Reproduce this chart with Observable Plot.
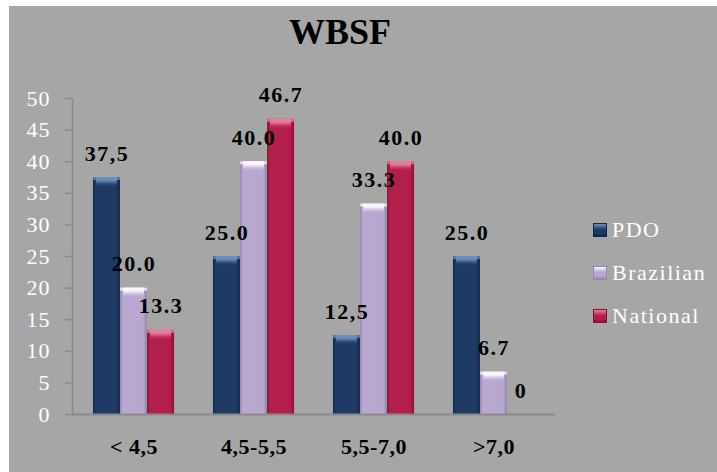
<!DOCTYPE html>
<html>
<head>
<meta charset="utf-8">
<script src="https://cdn.jsdelivr.net/npm/d3@7"></script>
<script src="https://cdn.jsdelivr.net/npm/@observablehq/plot@0.6"></script>
<style>
  body { margin: 0; background: #ffffff; }
  #chart {
    position: absolute; left: 9px; top: 6px; width: 708px; height: 466px;
    background: #a6a6a6; overflow: hidden;
    font-family: "Liberation Serif", "Times New Roman", serif;
  }
  #title {
    position: absolute; left: 0; top: 8px; width: 662px; text-align: center;
    font-weight: bold; font-size: 36px; line-height: 36px; color: #000;
  }
  #plot { position: absolute; left: 0; top: 0; }
  #legend { position: absolute; left: 584px; top: 202px; }
  .item { display: flex; align-items: center; height: 43px; color: #fff; font-size: 22px; letter-spacing: 1.5px; }
  .sw { width: 14px; height: 14px; margin-right: 5px; box-sizing: border-box; }
  #plot svg g[aria-label="text"] text { letter-spacing: 1.5px; }
  #plot svg g[aria-label="y-axis tick label"] text { letter-spacing: 1px; }
  #plot svg g[aria-label="x-axis tick label"] text { letter-spacing: 0.5px; }
</style>
</head>
<body>
<div id="chart">
  <div id="title">WBSF</div>
  <div id="plot"></div>
  <div id="legend"></div>
</div>
<script>
// WBSF distribution by class, percentage per sample group
const categories = ["< 4,5", "4,5-5,5", "5,5-7,0", ">7,0"];
const series = ["PDO", "Brazilian", "National"];

const pdo = [37.5, 25.0, 12.5, 25.0];
const brazilian = [20.0, 40.0, 33.3, 6.7];
const national = [13.3, 46.7, 40.0, 0];

const pdoLabels = ["37,5", "25.0", "12,5", "25.0"];
const brazilianLabels = ["20.0", "40.0", "33.3", "6.7"];
const nationalLabels = ["13.3", "46.7", "40.0", "0"];

const yTicks = [0, 5, 10, 15, 20, 25, 30, 35, 40, 45, 50];

// body colour, darker edge, light top highlight
const palette = {
  PDO:       {base: "#1f3a64", edge: "#12264a", light: "#6d8fbd"},
  Brazilian: {base: "#b8a8cf", edge: "#9585ae", light: "#fbf6ff"},
  National:  {base: "#b31f4b", edge: "#861234", light: "#ec7d9b"}
};

const valuesBySeries = {PDO: pdo, Brazilian: brazilian, National: national};
const labelsBySeries = {PDO: pdoLabels, Brazilian: brazilianLabels, National: nationalLabels};

const rows = series.map(s => categories.map((c, i) => ({
  category: c, series: s, value: valuesBySeries[s][i], label: labelsBySeries[s][i]
})));

const width = 708, height = 466;
const marginLeft = 63, marginRight = 162, marginTop = 92, marginBottom = 58;
const padInner = 0.776, padOuter = 0.388;
const step = (width - marginLeft - marginRight) / (categories.length - padInner + 2 * padOuter);
const bw = step * (1 - padInner);

const ids = {PDO: "pdo", Brazilian: "bra", National: "nat"};

// gradient definitions for the bevelled bars
const gradients = () => {
  const defs = d3.create("svg:defs");
  for (const s of series) {
    const p = palette[s];
    const body = defs.append("linearGradient").attr("id", "body-" + ids[s])
      .attr("x1", 0).attr("x2", 1).attr("y1", 0).attr("y2", 0);
    [[0, p.edge], [0.1, p.base], [0.55, p.base], [0.85, p.base], [1, p.edge]]
      .forEach(([o, c]) => body.append("stop").attr("offset", o).attr("stop-color", c));
    const cap = defs.append("linearGradient").attr("id", "cap-" + ids[s])
      .attr("x1", 0).attr("x2", 0).attr("y1", 0).attr("y2", 1);
    [[0, p.light, 1], [0.4, p.light, 0.85], [1, p.base, 0]]
      .forEach(([o, c, a]) => cap.append("stop").attr("offset", o).attr("stop-color", c).attr("stop-opacity", a));
  }
  return defs.node();
};

// bars with their bevelled tops, one offset column per series
const barMarks = series.flatMap((s, j) => {
  const dx = (j - 1) * bw;
  const data = rows[j];
  const tops = data.filter(d => d.value > 0);
  return [
    Plot.barY(data, {x: "category", y: "value", dx, fill: `url(#body-${ids[s]})`}),
    Plot.barY(tops, {
      x: "category", y1: "value", y2: "value", dx, insetBottom: -3,
      fill: palette[s].light, fillOpacity: 0.75
    }),
    Plot.barY(tops, {
      x: "category", y1: "value", y2: "value", dx, insetBottom: -10, insetLeft: 3, insetRight: 3,
      fill: `url(#cap-${ids[s]})`
    })
  ];
});

// value labels, drawn above every bar
const labelMarks = series.map((s, j) => Plot.text(rows[j], {
  x: "category", y: "value", text: "label", dx: (j - 1) * bw, dy: -24,
  fontWeight: "bold", fontSize: 22, fill: "#000", lineAnchor: "middle"
}));

const chart = Plot.plot({
  width, height, marginLeft, marginRight, marginTop, marginBottom,
  style: {background: "transparent", fontFamily: "'Liberation Serif', 'Times New Roman', serif"},
  x: {domain: categories, paddingInner: padInner, paddingOuter: padOuter, label: null},
  y: {domain: [0, 50], label: null},
  marks: [
    gradients,
    Plot.frame({anchor: "left", stroke: "#8a8a8a", strokeWidth: 1.5}),
    Plot.axisY(yTicks, {
      tickSize: 7, tickPadding: 15, stroke: "#8a8a8a", strokeWidth: 1.5,
      fill: "#ffffff", fontSize: 22, label: null, tickFormat: d => String(d)
    }),
    Plot.axisX({
      tickSize: 0, tickPadding: 24, fill: "#000", fontSize: 22, fontWeight: "bold", label: null
    }),
    ...barMarks,
    Plot.ruleY([0], {stroke: "#8a8a8a", strokeWidth: 2}),
    ...labelMarks
  ]
});
document.getElementById("plot").append(chart);

// legend built from the series list
const legend = d3.select("#legend");
for (const s of series) {
  const p = palette[s];
  const item = legend.append("div").attr("class", "item");
  item.append("div").attr("class", "sw")
    .style("background", `linear-gradient(to bottom, ${p.light} 0, ${p.base} 45%, ${p.base} 75%, ${p.edge} 100%)`)
    .style("border", `1px solid ${p.edge}`);
  item.append("span").text(s);
}
</script>
</body>
</html>
